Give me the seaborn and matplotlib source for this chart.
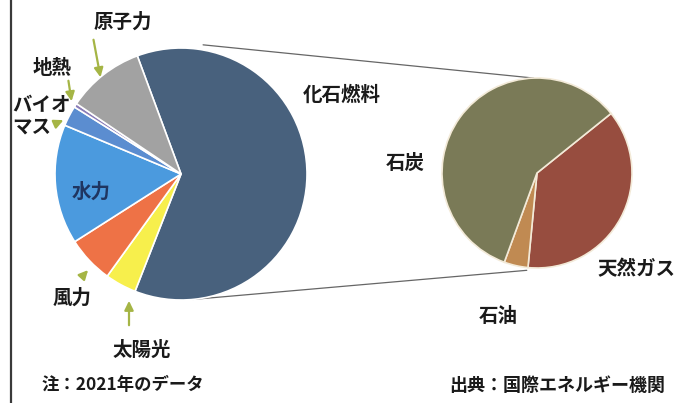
import numpy as np
import matplotlib
matplotlib.use("Agg")
import matplotlib.pyplot as plt
import seaborn as sns

# World electricity generation mix, 2021 (%)
sources = ["化石燃料", "太陽光", "風力", "水力", "バイオマス", "地熱", "原子力"]
shares = [61.4, 4.0, 6.0, 15.3, 2.6, 0.5, 9.9]
source_colors = ["#48617d", "#f7ef4c", "#ee7246", "#4b9ade", "#5b8dd0", "#8a7cb8", "#a2a2a2"]

# Breakdown of fossil fuels (%)
fossil_types = ["天然ガス", "石油", "石炭"]
fossil_shares = [22.9, 2.5, 36.0]
fossil_colors = ["#974d3f", "#c08a52", "#7a7a57"]

sns.set_theme(style="white")
plt.rcParams["font.family"] = ["Noto Sans CJK JP", "DejaVu Sans"]

W, H = 675, 403
fig = plt.figure(figsize=(W / 100, H / 100), dpi=100)
ax = fig.add_axes([0, 0, 1, 1])

main_c, main_r = (181, 229), 126
sub_c, sub_r = (537, 230), 95

ax.pie(shares, colors=source_colors, center=main_c, radius=main_r,
       startangle=110.3, counterclock=False,
       wedgeprops=dict(edgecolor="white", linewidth=1.2), frame=True)
ax.pie(fossil_shares, colors=fossil_colors, center=sub_c, radius=sub_r,
       startangle=38.8, counterclock=False,
       wedgeprops=dict(edgecolor="#f3ead8", linewidth=1.2), frame=True)
ax.set_xlim(0, W)
ax.set_ylim(0, H)
ax.set_aspect("equal")
ax.axis("off")


def rim(c, r, deg_cw_from_top, k=1.0):
    a = np.deg2rad(90 - deg_cw_from_top)
    return c[0] + k * r * np.cos(a), c[1] + k * r * np.sin(a)


# connector lines between the two pies
p1 = rim(main_c, main_r, 9.7, 1.04)
q1 = rim(sub_c, sub_r, -2, 1.0)
p2 = rim(main_c, main_r, 174.6, 1.0)
q2 = rim(sub_c, sub_r, 186, 1.03)
for p, q in [(p1, q1), (p2, q2)]:
    ax.plot([p[0], q[0]], [p[1], q[1]], color="#666666", lw=0.9, zorder=0)

# left frame border
ax.plot([10.5, 10.5], [0, H], color="#3a3a3a", lw=1.6)

ink = "#1a1a1a"
txt = dict(fontsize=14, color=ink, ha="center", va="center", fontweight="bold")
ax.text(123, H - 22, "原子力", **txt)
ax.text(52, H - 68, "地熱", **txt)
ax.text(12, H - 116, "バイオ\nマス", fontsize=14, color=ink, ha="left", va="center",
        linespacing=1.15, fontweight="bold")
ax.text(91, H - 192, "水力", fontsize=14, color="#1f3560", ha="center", va="center",
        fontweight="bold")
ax.text(72, H - 298, "風力", **txt)
ax.text(142, H - 350, "太陽光", **txt)
ax.text(342, H - 95, "化石燃料", **txt)
ax.text(405, H - 163, "石炭", **txt)
ax.text(636, H - 270, "天然ガス", **txt)
ax.text(498, H - 317, "石油", **txt)
ax.text(42, H - 385, "注：2021年のデータ", fontsize=12.5, color=ink, ha="left", va="center",
        fontweight="bold")
ax.text(665, H - 385, "出典：国際エネルギー機関", fontsize=13, color=ink, ha="right", va="center",
        fontweight="bold")

# pointer arrows from labels to small slices
arrow_kw = dict(arrowstyle="-|>,head_length=0.45,head_width=0.22", color="#a5b545", lw=1.6)
for tail, head in [((93, 37), (101, 80)), ((68, 78), (72, 104)), ((57, 123), (66, 119)),
                   ((80, 279), (90, 268)), ((129, 328), (129, 298))]:
    ax.annotate("", xy=(head[0], H - head[1]), xytext=(tail[0], H - tail[1]),
                arrowprops=arrow_kw)

fig.savefig("out.png", dpi=100, facecolor="white")
